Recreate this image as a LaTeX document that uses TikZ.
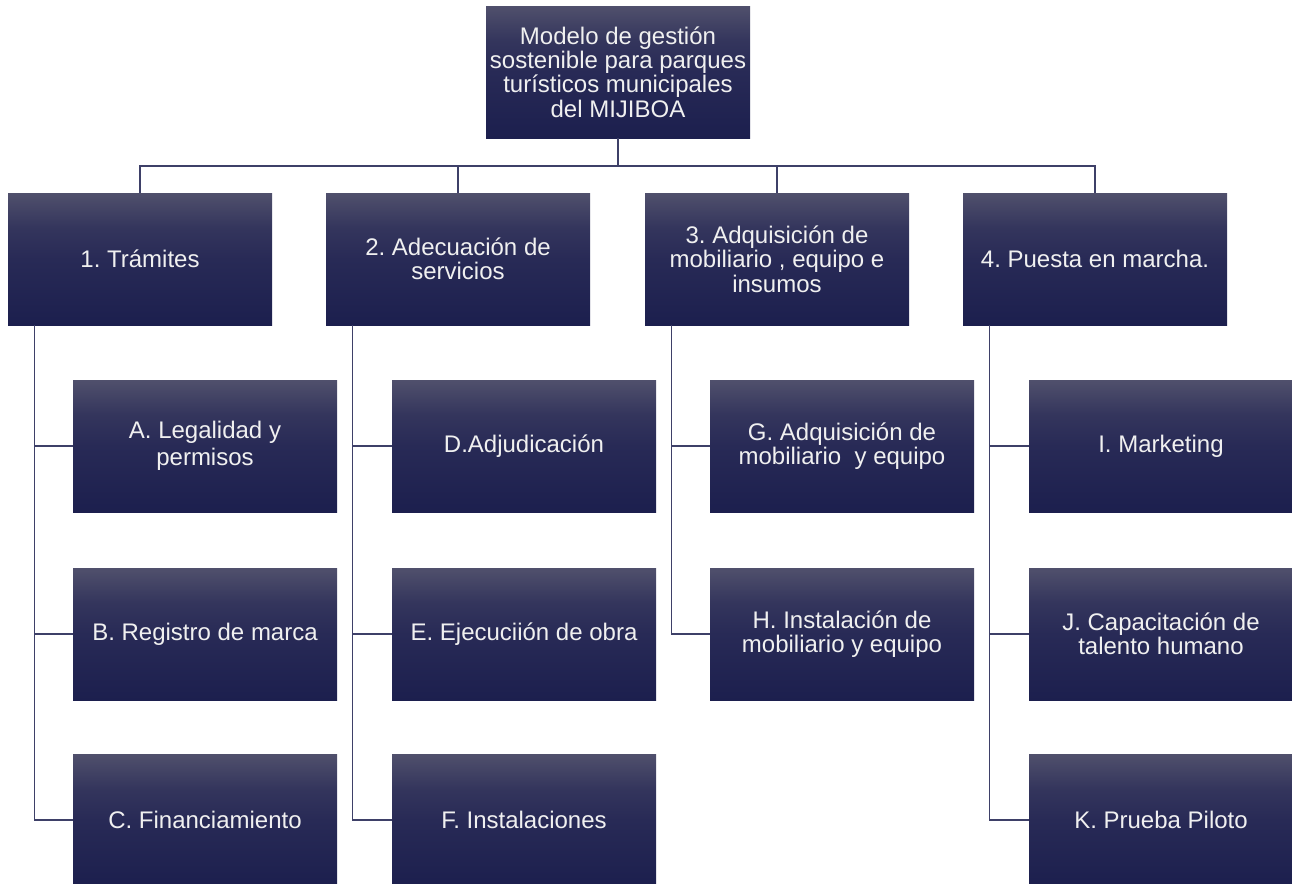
\documentclass[tikz,border=0pt]{standalone}
\usepackage{fontspec}
\setmainfont{Liberation Sans}
\usepackage{tikz}
\frenchspacing

\definecolor{boxtop}{RGB}{80,80,108}
\definecolor{boxmid}{RGB}{40,42,86}
\definecolor{boxbot}{RGB}{28,31,78}
\definecolor{linecol}{RGB}{62,64,104}
\pgfdeclareverticalshading{boxshade}{100bp}{color(0bp)=(boxbot); color(25bp)=(boxbot); color(50bp)=(boxmid); color(62bp)=(boxmid!70!boxtop); color(75bp)=(boxtop); color(100bp)=(boxtop)}

\begin{document}
\begin{tikzpicture}[x=0.5pt,y=-0.5pt,
		  box/.style={shading=boxshade,minimum width=132pt,minimum height=66pt,inner sep=0pt,
		    text=white!94!black,align=center,font=\fontsize{12}{12.2}\selectfont},
		  link/.style={draw=linecol,line width=0.8pt}]
		  \useasboundingbox (0,0) rectangle (1292,884);
		  \node[box] (top) at (618,72) {Modelo de gestión\\sostenible para parques\\turísticos municipales\\del MIJIBOA};
		  \node[box] (t1) at (140,259) {1. Trámites};
		  \node[box] (t2) at (458,259) {2. Adecuación de\\servicios};
		  \node[box] (t3) at (777,259) {3. Adquisición de\\mobiliario , equipo e\\insumos};
		  \node[box] (t4) at (1095,259) {4. Puesta en marcha.};
		  \node[box] (ca) at (205,446) {A. Legalidad y\\[1.5pt]permisos};
		  \node[box] (cb) at (205,634) {B. Registro de marca};
		  \node[box] (cc) at (205,820) {C. Financiamiento};
		  \node[box] (cd) at (524,446) {D.Adjudicación};
		  \node[box] (ce) at (524,634) {E. Ejecuciión de obra};
		  \node[box] (cf) at (524,820) {F. Instalaciones};
		  \node[box] (cg) at (842,446) {G. Adquisición de\\mobiliario\ \ y equipo};
		  \node[box] (ch) at (842,634) {H. Instalación de\\mobiliario y equipo};
		  \node[box] (ci) at (1161,446) {I. Marketing};
		  \node[box] (cj) at (1161,634) {J. Capacitación de\\talento humano};
		  \node[box] (ck) at (1161,820) {K. Prueba Piloto};
		  \coordinate (bar) at (0,166);
		  \draw[link] (top.south) -- (top.south |- bar) -| (t1.north);
		  \draw[link] (top.south |- bar) -| (t2.north);
		  \draw[link] (top.south |- bar) -| (t3.north);
		  \draw[link] (top.south |- bar) -| (t4.north);
		  \draw[link] ([xshift=13.5pt]t1.south west) |- (ca.west);
		  \draw[link] ([xshift=13.5pt]t1.south west) |- (cb.west);
		  \draw[link] ([xshift=13.5pt]t1.south west) |- (cc.west);
		  \draw[link] ([xshift=13.5pt]t2.south west) |- (cd.west);
		  \draw[link] ([xshift=13.5pt]t2.south west) |- (ce.west);
		  \draw[link] ([xshift=13.5pt]t2.south west) |- (cf.west);
		  \draw[link] ([xshift=13.5pt]t3.south west) |- (cg.west);
		  \draw[link] ([xshift=13.5pt]t3.south west) |- (ch.west);
		  \draw[link] ([xshift=13.5pt]t4.south west) |- (ci.west);
		  \draw[link] ([xshift=13.5pt]t4.south west) |- (cj.west);
		  \draw[link] ([xshift=13.5pt]t4.south west) |- (ck.west);
		\end{tikzpicture}
\end{document}
